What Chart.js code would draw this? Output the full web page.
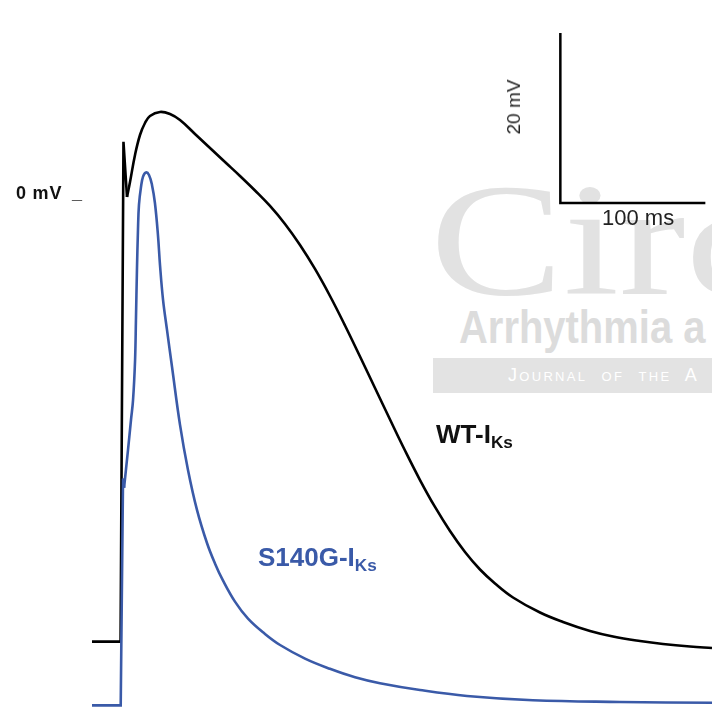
<!DOCTYPE html>
<html>
<head>
<meta charset="utf-8">
<script src="https://cdn.jsdelivr.net/npm/chart.js@4.4.0/dist/chart.umd.min.js"></script>
<style>
  html, body { margin: 0; padding: 0; background: #ffffff; }
  #wrap { position: relative; width: 712px; height: 708px; overflow: hidden; background: #fff; font-family: "Liberation Sans", Arial, sans-serif; }
  #c { position: absolute; left: 0; top: 0; z-index: 2; }
  .wm { position: absolute; z-index: 1; white-space: nowrap; transform-origin: 0 0; }
  .lbl { position: absolute; z-index: 3; white-space: nowrap; }
  sub { font-size: 0.66em; vertical-align: -0.3em; }
</style>
</head>
<body>
<div id="wrap">
  <div class="wm" style="left:430px; top:160px; font-family:'Liberation Serif','DejaVu Serif',serif; font-size:160px; line-height:1; color:#e2e2e2; transform:scaleX(1.25);">Circ</div>
  <div class="wm" style="left:459px; top:303px; font-family:'Liberation Sans',sans-serif; font-weight:bold; font-size:47px; line-height:1; color:#dcdcdc; transform:scaleX(0.85);">Arrhythmia a</div>
  <div class="wm" style="left:433px; top:358px; width:290px; height:35px; background:#e3e3e3;"></div>
  <div class="wm" style="left:508px; top:366px; font-family:'Liberation Sans',sans-serif; font-size:18px; line-height:1; color:#ffffff; font-variant:small-caps; letter-spacing:2.3px; word-spacing:7px;">Journal of the A</div>

  <canvas id="c" width="712" height="708"></canvas>

  <div class="lbl" style="left:16px; top:183px; font-size:18px; font-weight:bold; letter-spacing:0.8px; color:#111;">0 mV</div>
  <div class="lbl" style="left:72px; top:183px; font-size:18px; font-weight:bold; color:#111;">_</div>
  <div class="lbl" style="left:436px; top:419px; font-size:26px; font-weight:bold; color:#111;">WT-I<sub>Ks</sub></div>
  <div class="lbl" style="left:258px; top:542px; font-size:26px; font-weight:bold; color:#3a5aa8;">S140G-I<sub>Ks</sub></div>
  <div class="lbl" style="left:514px; top:107px; font-size:19px; color:#222; transform:translate(-50%,-50%) rotate(-90deg);">20 mV</div>
  <div class="lbl" style="left:602px; top:205px; font-size:22px; color:#222;">100 ms</div>
</div>
<script>
// Action potential traces (time in ms, membrane potential in mV)
const wtTime = [-20, -0.7, -0.3, 1.7, 4.14, 6.21, 9.66, 13.10, 16.55, 20.00, 26.90, 33.79, 40.69, 51.03, 61.38, 71.72, 82.07, 92.41, 102.76, 113.10, 123.45, 133.79, 144.14, 154.48, 164.83, 175.17, 185.52, 195.86, 206.21, 216.55, 226.90, 237.24, 247.59, 257.93, 270.34, 288.97, 304.83, 323.45, 339.31, 357.93, 373.79, 392.41, 407.59];
const wtVolt = [-51.6, -51.6, -51.6, 7.2, 0.71, 2.47, 5.65, 8.00, 9.41, 10.24, 10.71, 10.47, 9.76, 8.12, 6.47, 4.82, 3.18, 1.47, -0.35, -2.47, -4.94, -7.76, -10.94, -14.41, -18.06, -21.76, -25.47, -29.12, -32.59, -35.76, -38.59, -41.06, -43.12, -44.76, -46.41, -48.18, -49.29, -50.35, -51.00, -51.53, -51.88, -52.18, -52.35];

const mutTime = [-20, -0.7, -0.2, 1.4, 2.1, 4.8, 6.9, 8.3, 9.7, 10.3, 11.0, 11.7, 12.4, 13.8, 15.2, 17.2, 19.3, 21.4, 23.4, 25.5, 26.9, 29.0, 31.7, 35.2, 40.7, 46.2, 52.4, 59.3, 64.8, 70.3, 78.6, 87.6, 99.3, 109.7, 126.9, 144.1, 161.4, 178.6, 206.2, 238.6, 284.1, 344.1, 407.6];
const mutVolt = [-59.1, -59.1, -59.1, -32.4, -33.5, -29.1, -25.5, -23.2, -18.5, -13.8, -7.9, -3.2, -0.2, 1.9, 3.1, 3.6, 3.3, 2.1, 0.0, -3.8, -7.3, -11.4, -14.9, -19.3, -26.1, -31.4, -36.1, -40.0, -42.4, -44.4, -46.9, -48.9, -50.7, -52.0, -53.6, -54.8, -55.8, -56.5, -57.3, -58.0, -58.5, -58.7, -58.8];

// index where the fast upstroke ends and the smooth repolarisation begins
const wtSplit = 4;
const mutSplit = 4;

// Scale bar: 20 mV vertical, 100 ms horizontal
const scaleTime = [303, 303, 403];
const scaleVolt = [20, 0, 0];

const toPts = (xs, ys, a, b) => xs.slice(a, b).map((x, i) => ({ x: x, y: ys[a + i] }));

const BLUE = '#3a5aa8';
const base = { pointRadius: 0, fill: false, clip: false, borderWidth: 2.6 };

new Chart(document.getElementById('c'), {
  type: 'line',
  data: {
    datasets: [
      Object.assign({ label: 'S140G-IKs upstroke', data: toPts(mutTime, mutVolt, 0, mutSplit + 1), borderColor: BLUE, tension: 0, order: 0 }, base),
      Object.assign({ label: 'S140G-IKs', data: toPts(mutTime, mutVolt, mutSplit, mutTime.length), borderColor: BLUE, tension: 0.4, order: 0 }, base),
      Object.assign({ label: 'WT-IKs upstroke', data: toPts(wtTime, wtVolt, 0, wtSplit + 1), borderColor: '#000', tension: 0, order: 1 }, base),
      Object.assign({ label: 'WT-IKs', data: toPts(wtTime, wtVolt, wtSplit, wtTime.length), borderColor: '#000', tension: 0.4, order: 1 }, base),
      Object.assign({ label: 'scale', data: toPts(scaleTime, scaleVolt, 0, scaleTime.length), borderColor: '#000', tension: 0, order: 2 }, base, { borderWidth: 2.5 })
    ]
  },
  options: {
    responsive: false,
    animation: false,
    events: [],
    layout: { padding: 0 },
    plugins: { legend: { display: false }, tooltip: { enabled: false } },
    scales: {
      x: { type: 'linear', min: -121 / 1.45, max: 591 / 1.45, display: false },
      y: { type: 'linear', min: (203 - 708) / 8.5, max: 203 / 8.5, display: false }
    }
  }
});
</script>
</body>
</html>
